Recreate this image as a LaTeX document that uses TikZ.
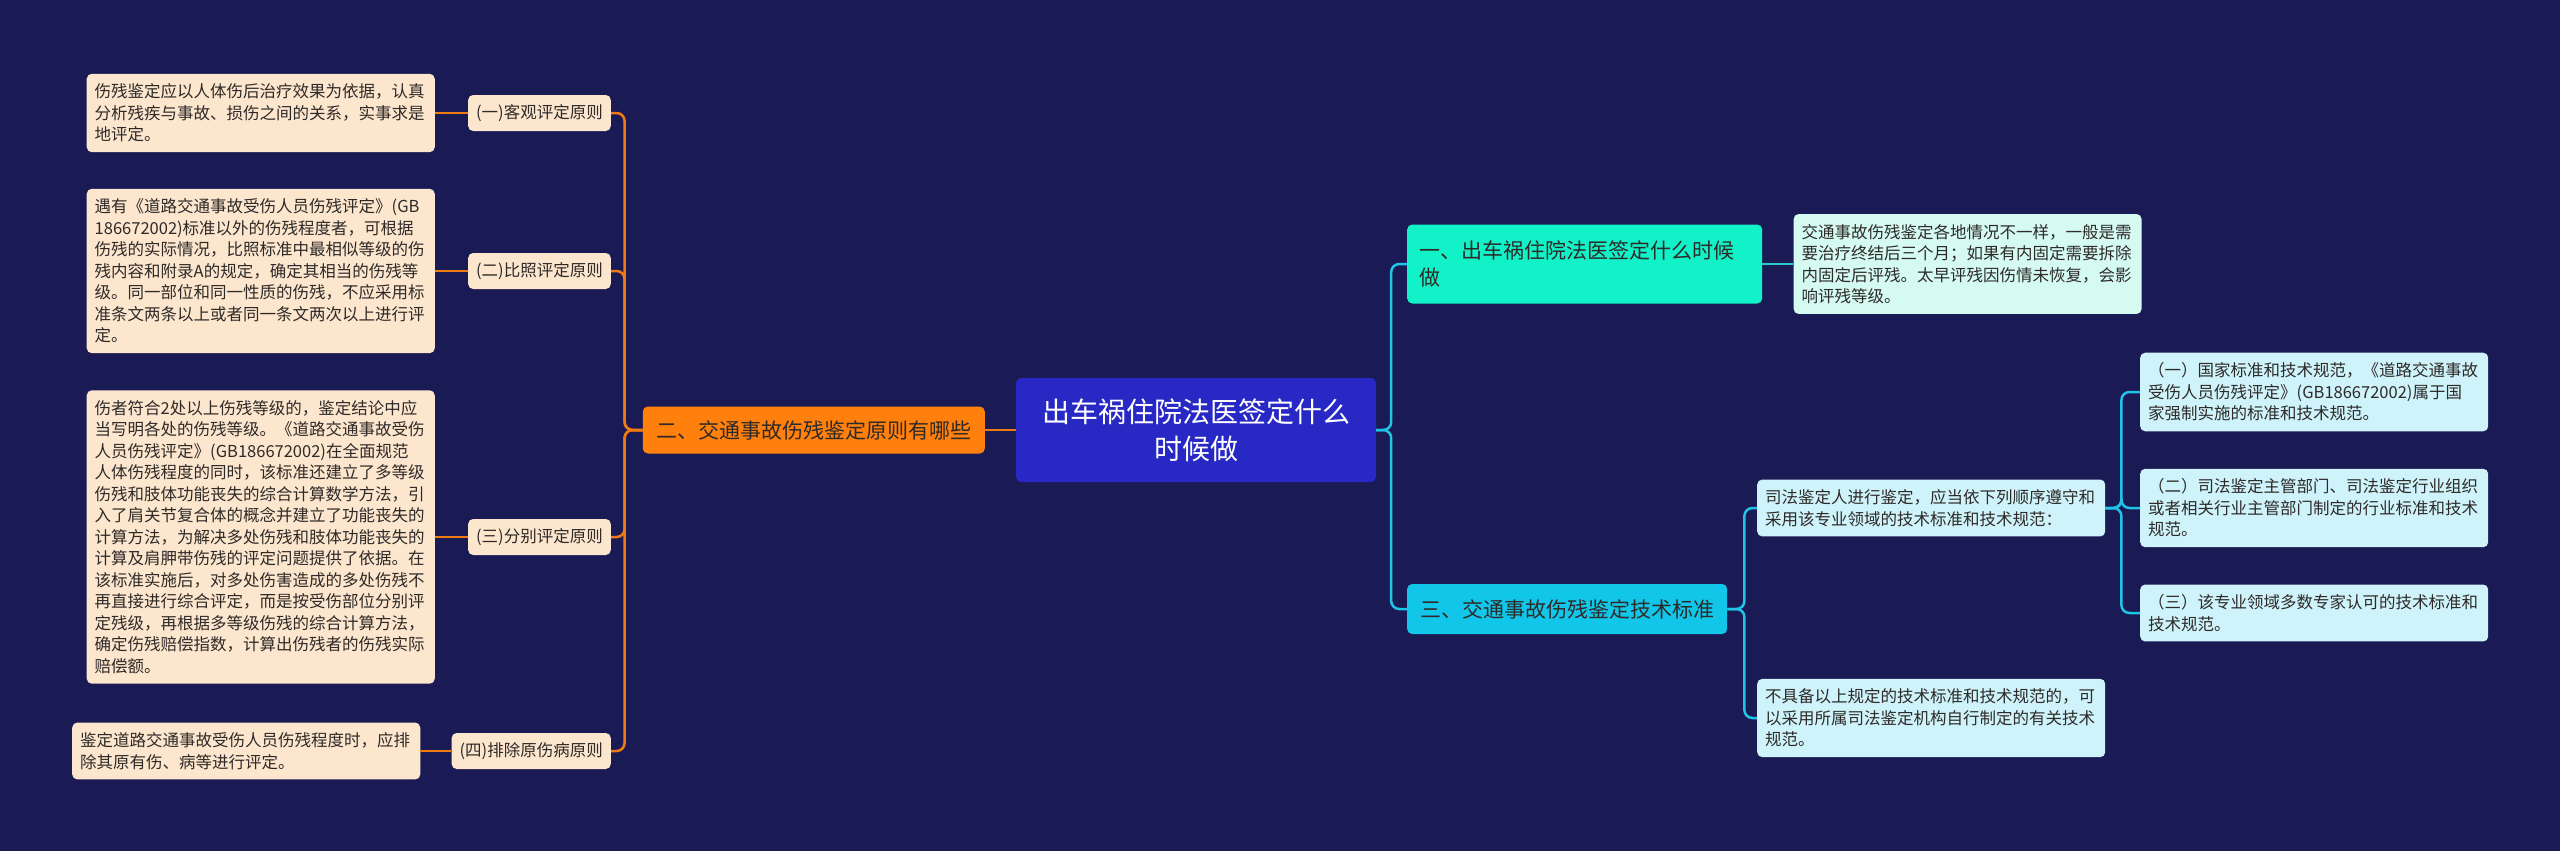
\documentclass[tikz,border=0pt]{standalone}
\usepackage{fontspec}
\setmainfont{Noto Sans CJK SC}
\usetikzlibrary{positioning}
\definecolor{bg}{HTML}{1A1A54}
\definecolor{rootc}{HTML}{2828C4}
\definecolor{orng}{HTML}{FF800C}
\definecolor{peach}{HTML}{FDE6CE}
\definecolor{aqua}{HTML}{12F2C8}
\definecolor{aqual}{HTML}{D4FAF2}
\definecolor{cyanc}{HTML}{12C6EA}
\definecolor{cyanl}{HTML}{CFF3FB}
\definecolor{ink}{HTML}{2E2A28}
\definecolor{olc}{HTML}{F07A12}
\definecolor{clc}{HTML}{1FC4E6}
\definecolor{glc}{HTML}{26CDC4}
\tikzset{
  base/.style={rounded corners=5pt, text=ink, inner xsep=9pt},
  rootbox/.style={base, fill=rootc, text=white, font=\fontsize{28}{37}\selectfont, align=center,
    minimum width=360pt, minimum height=104pt},
  obox/.style={base, fill=orng, font=\fontsize{21}{27}\selectfont, minimum height=47pt, minimum width=342pt},
  gbox/.style={base, fill=aqua, font=\fontsize{21}{27}\selectfont, align=left, text width=331pt,
    inner xsep=12pt, minimum height=79pt},
  cbox/.style={base, fill=cyanc, font=\fontsize{21}{27}\selectfont, minimum height=50pt, minimum width=320pt},
  lab/.style={base, fill=peach, font=\fontsize{16.5}{21.5}\selectfont, minimum height=36pt, inner xsep=8pt},
  note/.style={base, fill=#1, font=\fontsize{16.5}{21.5}\selectfont, align=left, text width=332pt,
    inner xsep=8pt, inner ysep=10pt},
  note/.default=peach,
  link/.style={line width=2.5pt, draw=#1, rounded corners=8pt},
}
\begin{document}
\begin{tikzpicture}[x=1pt, y=-1pt, node distance=33pt]
  \fill[bg] (0,0) rectangle (2560,851);
  \node[rootbox] (root) at (1196,430) {出车祸住院法医签定什么\\时候做};
  \node[obox, anchor=east] (prin) at (985,430) {二、交通事故伤残鉴定原则有哪些};
  \node[lab, anchor=east] (p1) at (611,113) {(一)客观评定原则};
  \node[lab, anchor=east] (p2) at (611,271) {(二)比照评定原则};
  \node[lab, anchor=east] (p3) at (611,537) {(三)分别评定原则};
  \node[lab, anchor=east] (p4) at (611,751) {(四)排除原伤病原则};
  \node[note, left=of p1] (d1) {伤残鉴定应以人体伤后治疗效果为依据，认真\\分析残疾与事故、损伤之间的关系，实事求是\\地评定。};
  \node[note, left=of p2] (d2) {遇有《道路交通事故受伤人员伤残评定》(GB\\186672002)标准以外的伤残程度者，可根据\\伤残的实际情况，比照标准中最相似等级的伤\\残内容和附录A的规定，确定其相当的伤残等\\级。同一部位和同一性质的伤残，不应采用标\\准条文两条以上或者同一条文两次以上进行评\\定。};
  \node[note, left=of p3] (d3) {伤者符合2处以上伤残等级的，鉴定结论中应\\当写明各处的伤残等级。《道路交通事故受伤\\人员伤残评定》(GB186672002)在全面规范\\人体伤残程度的同时，该标准还建立了多等级\\伤残和肢体功能丧失的综合计算数学方法，引\\入了肩关节复合体的概念并建立了功能丧失的\\计算方法，为解决多处伤残和肢体功能丧失的\\计算及肩胛带伤残的评定问题提供了依据。在\\该标准实施后，对多处伤害造成的多处伤残不\\再直接进行综合评定，而是按受伤部位分别评\\定残级，再根据多等级伤残的综合计算方法，\\确定伤残赔偿指数，计算出伤残者的伤残实际\\赔偿额。};
  \node[note, left=31pt of p4] (d4) {鉴定道路交通事故受伤人员伤残程度时，应排\\除其原有伤、病等进行评定。};
  \node[gbox, anchor=west] (when) at (1407,264) {一、出车祸住院法医签定什么时候\\做};
  \node[note=aqual, right=31pt of when] (whend) {交通事故伤残鉴定各地情况不一样，一般是需\\要治疗终结后三个月；如果有内固定需要拆除\\内固定后评残。太早评残因伤情未恢复，会影\\响评残等级。};
  \node[cbox, anchor=west] (std) at (1407,609) {三、交通事故伤残鉴定技术标准};
  \node[note=cyanl, anchor=west] (s1) at (1757,508) {司法鉴定人进行鉴定，应当依下列顺序遵守和\\采用该专业领域的技术标准和技术规范：};
  \node[note=cyanl, anchor=west] (s2) at (1757,718) {不具备以上规定的技术标准和技术规范的，可\\以采用所属司法鉴定机构自行制定的有关技术\\规范。};
  \node[note=cyanl, anchor=west] (k1) at (2140,392) {（一）国家标准和技术规范，《道路交通事故\\受伤人员伤残评定》(GB186672002)属于国\\家强制实施的标准和技术规范。};
  \node[note=cyanl, anchor=west] (k2) at (2140,508) {（二）司法鉴定主管部门、司法鉴定行业组织\\或者相关行业主管部门制定的行业标准和技术\\规范。};
  \node[note=cyanl, anchor=west] (k3) at (2140,613) {（三）该专业领域多数专家认可的技术标准和\\技术规范。};
  \draw[link=olc] (root.west) -- (prin.east);
  \foreach \n in {p1,p2,p3,p4}
    \draw[link=olc] (prin.west) -- ++(-18,0) |- (\n.east);
  \foreach \n/\d in {p1/d1,p2/d2,p3/d3,p4/d4}
    \draw[link=olc] (\n.west) -- (\d.east);
  \foreach \n in {when,std}
    \draw[link=clc] (root.east) -- ++(15,0) |- (\n.west);
  \draw[link=glc] (when.east) -- (whend.west);
  \foreach \n in {s1,s2}
    \draw[link=clc] (std.east) -- ++(17,0) |- (\n.west);
  \foreach \n in {k1,k2,k3}
    \draw[link=clc] (s1.east) -- ++(16,0) |- (\n.west);
\end{tikzpicture}
\end{document}
